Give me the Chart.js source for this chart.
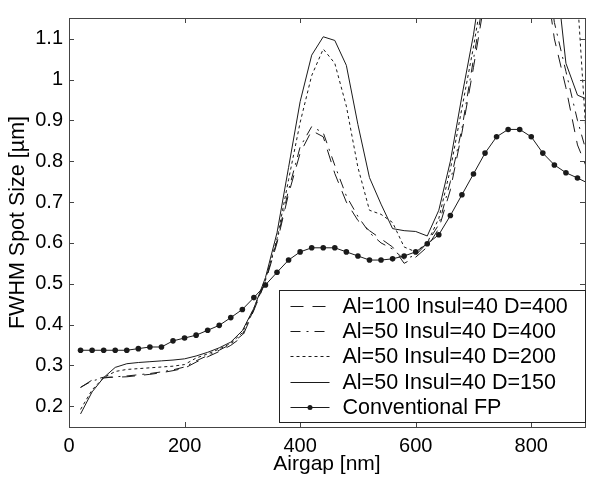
<!DOCTYPE html>
<html>
<head>
<meta charset="utf-8">
<script src="https://cdn.jsdelivr.net/npm/chart.js@4"></script>
<style>
  html, body { margin: 0; padding: 0; background: #fff; }
</style>
</head>
<body>
<canvas id="chart" width="589" height="480"></canvas>
<script>
// Airgap sample positions [nm], shared by all curves
const airgap = [20, 40, 60, 80, 100, 120, 140, 160, 180, 200,
                220, 240, 260, 280, 300, 320, 340, 360, 380, 400,
                420, 440, 460, 480, 500, 520, 540, 560, 580, 600,
                620, 640, 660, 680, 700, 720, 740, 760, 780, 800,
                820, 840, 860, 880, 900];

// FWHM spot size [um] (values above 1.15 run off the top)
const al100d400 = [0.246, 0.264, 0.271, 0.271, 0.272, 0.275, 0.278, 0.282, 0.287, 0.293,
                   0.308, 0.321, 0.334, 0.349, 0.370, 0.435, 0.505, 0.600, 0.720, 0.820,
                   0.875, 0.860, 0.770, 0.700, 0.655, 0.630, 0.610, 0.590, 0.550, 0.565,
                   0.590, 0.635, 0.730, 0.870, 1.030, 1.200, 1.400, 1.500, 1.500, 1.450,
                   1.300, 1.100, 0.980, 0.840, 0.770];
const al50d400  = [0.246, 0.262, 0.269, 0.272, 0.274, 0.277, 0.280, 0.284, 0.289, 0.296,
                   0.311, 0.324, 0.337, 0.352, 0.375, 0.437, 0.508, 0.605, 0.730, 0.835,
                   0.885, 0.870, 0.790, 0.715, 0.665, 0.625, 0.600, 0.585, 0.560, 0.570,
                   0.600, 0.645, 0.750, 0.880, 1.050, 1.220, 1.400, 1.500, 1.500, 1.450,
                   1.350, 1.140, 1.020, 0.900, 0.800];
const al50d200  = [0.192, 0.240, 0.270, 0.285, 0.290, 0.292, 0.294, 0.296, 0.298, 0.302,
                   0.318, 0.328, 0.340, 0.354, 0.380, 0.440, 0.510, 0.610, 0.755, 0.895,
                   1.010, 1.075, 1.040, 0.935, 0.785, 0.680, 0.670, 0.650, 0.590, 0.578,
                   0.600, 0.660, 0.780, 0.930, 1.080, 1.250, 1.400, 1.500, 1.500, 1.500,
                   1.450, 1.400, 1.350, 1.200, 0.750];
const al50d150  = [0.181, 0.235, 0.270, 0.295, 0.304, 0.307, 0.309, 0.311, 0.313, 0.316,
                   0.323, 0.332, 0.343, 0.357, 0.385, 0.440, 0.515, 0.625, 0.785, 0.946,
                   1.060, 1.105, 1.096, 1.035, 0.890, 0.760, 0.695, 0.635, 0.630, 0.628,
                   0.617, 0.680, 0.800, 0.960, 1.110, 1.300, 1.450, 1.500, 1.500, 1.450,
                   1.400, 1.300, 1.040, 0.962, 0.950];
const conventional = [0.337, 0.337, 0.337, 0.337, 0.337, 0.341, 0.345, 0.345, 0.360, 0.367,
                      0.374, 0.386, 0.398, 0.417, 0.437, 0.466, 0.497, 0.528, 0.558, 0.578,
                      0.588, 0.588, 0.588, 0.578, 0.568, 0.558, 0.558, 0.561, 0.568, 0.578,
                      0.598, 0.620, 0.667, 0.718, 0.769, 0.820, 0.860, 0.878, 0.878, 0.860,
                      0.820, 0.791, 0.772, 0.759, 0.745];

const seriesNames = ['Al=100 Insul=40 D=400', 'Al=50 Insul=40 D=400',
                     'Al=50 Insul=40 D=200', 'Al=50 Insul=40 D=150', 'Conventional FP'];

const xTicks = [0, 200, 400, 600, 800];
const yTicks = [0.2, 0.3, 0.4, 0.5, 0.6, 0.7, 0.8, 0.9, 1, 1.1];

const toPoints = ys => ys.map((y, i) => ({ x: airgap[i], y }));
const INK = '#1a1a1a';
const FONT = '"Liberation Sans", Arial, sans-serif';

Chart.defaults.font.family = FONT;
Chart.defaults.color = '#000';

function lineSet(label, ys, dash, extra) {
    return Object.assign({
        label,
        data: toPoints(ys),
        borderColor: INK,
        backgroundColor: INK,
        borderWidth: 1,
        borderDash: dash,
        pointRadius: 0,
        tension: 0,
        fill: false
    }, extra || {});
}

// Frame and inward tick marks, like a MATLAB axes box
const framePlugin = {
    id: 'frame',
    afterDatasetsDraw(chart) {
        const { ctx, chartArea: a, scales } = chart;
        ctx.save();
        ctx.strokeStyle = '#444';
        ctx.lineWidth = 1;
        ctx.beginPath();
        xTicks.forEach(v => {
            const px = Math.round(scales.x.getPixelForValue(v)) + 0.5;
            ctx.moveTo(px, a.bottom); ctx.lineTo(px, a.bottom - 5);
            ctx.moveTo(px, a.top); ctx.lineTo(px, a.top + 5);
        });
        yTicks.forEach(v => {
            const py = Math.round(scales.y.getPixelForValue(v)) + 0.5;
            ctx.moveTo(a.left, py); ctx.lineTo(a.left + 5, py);
            ctx.moveTo(a.right, py); ctx.lineTo(a.right - 5, py);
        });
        ctx.stroke();
        ctx.strokeRect(Math.round(a.left) + 0.5, Math.round(a.top) + 0.5,
                       Math.round(a.right - a.left), Math.round(a.bottom - a.top));
        ctx.restore();
    }
};

// Boxed legend inside the lower right corner of the plot
const legendPlugin = {
    id: 'boxLegend',
    afterDraw(chart) {
        const { ctx, chartArea: a } = chart;
        const w = 306, h = 132;
        const x0 = Math.round(a.right - w) + 0.5;
        const y0 = Math.round(a.bottom - 5 - h) + 0.5;
        ctx.save();
        ctx.fillStyle = '#fff';
        ctx.fillRect(x0, y0, w, h);
        ctx.strokeStyle = '#222';
        ctx.lineWidth = 1;
        ctx.strokeRect(x0, y0, w, h);
        ctx.font = '21.5px ' + FONT;
        ctx.textBaseline = 'middle';
        ctx.fillStyle = '#000';
        chart.data.datasets.forEach((ds, i) => {
            const y = Math.round(y0 + 15 + i * 25.4) + 0.5;
            ctx.strokeStyle = INK;
            ctx.setLineDash(ds.borderDash || []);
            ctx.beginPath();
            ctx.moveTo(x0 + 11, y);
            ctx.lineTo(x0 + 50, y);
            ctx.stroke();
            ctx.setLineDash([]);
            if (ds.pointRadius) {
                ctx.beginPath();
                ctx.arc(x0 + 30.5, y, 2.5, 0, Math.PI * 2);
                ctx.fillStyle = INK;
                ctx.fill();
                ctx.fillStyle = '#000';
            }
            ctx.fillText(ds.label, x0 + 63, y + 1);
        });
        ctx.restore();
    }
};

new Chart(document.getElementById('chart'), {
    type: 'line',
    data: {
        datasets: [
            lineSet(seriesNames[0], al100d400, [13, 9]),
            lineSet(seriesNames[1], al50d400, [10, 6, 2, 6]),
            lineSet(seriesNames[2], al50d200, [3, 3]),
            lineSet(seriesNames[3], al50d150, []),
            lineSet(seriesNames[4], conventional, [], { pointRadius: 2.8, pointBorderWidth: 0 })
        ]
    },
    options: {
        responsive: false,
        animation: false,
        layout: { padding: { left: 0, right: 1, top: 15, bottom: 0 } },
        plugins: {
            legend: { display: false },
            tooltip: { enabled: false }
        },
        scales: {
            x: {
                type: 'linear',
                min: 0,
                max: 893,
                afterFit: s => { s.height = 53; },
                afterBuildTicks: s => { s.ticks = xTicks.map(v => ({ value: v })); },
                ticks: { font: { size: 20 }, color: '#000', padding: 7, maxRotation: 0 },
                grid: { display: false, drawTicks: false },
                border: { display: false },
                title: { display: true, text: 'Airgap [nm]', font: { size: 21 }, color: '#000',
                         padding: { top: 0, bottom: 3 } }
            },
            y: {
                type: 'linear',
                min: 0.149,
                max: 1.151,
                afterFit: s => { s.width = 69; },
                afterBuildTicks: s => { s.ticks = yTicks.map(v => ({ value: v })); },
                ticks: { font: { size: 20 }, color: '#000', padding: 6,
                         callback: v => String(Number(v.toFixed(1))) },
                grid: { display: false, drawTicks: false },
                border: { display: false },
                title: { display: true, text: 'FWHM Spot Size [µm]', font: { size: 21.5 }, color: '#000',
                         padding: { top: 5, bottom: 0 } }
            }
        }
    },
    plugins: [framePlugin, legendPlugin]
});
</script>
</body>
</html>
